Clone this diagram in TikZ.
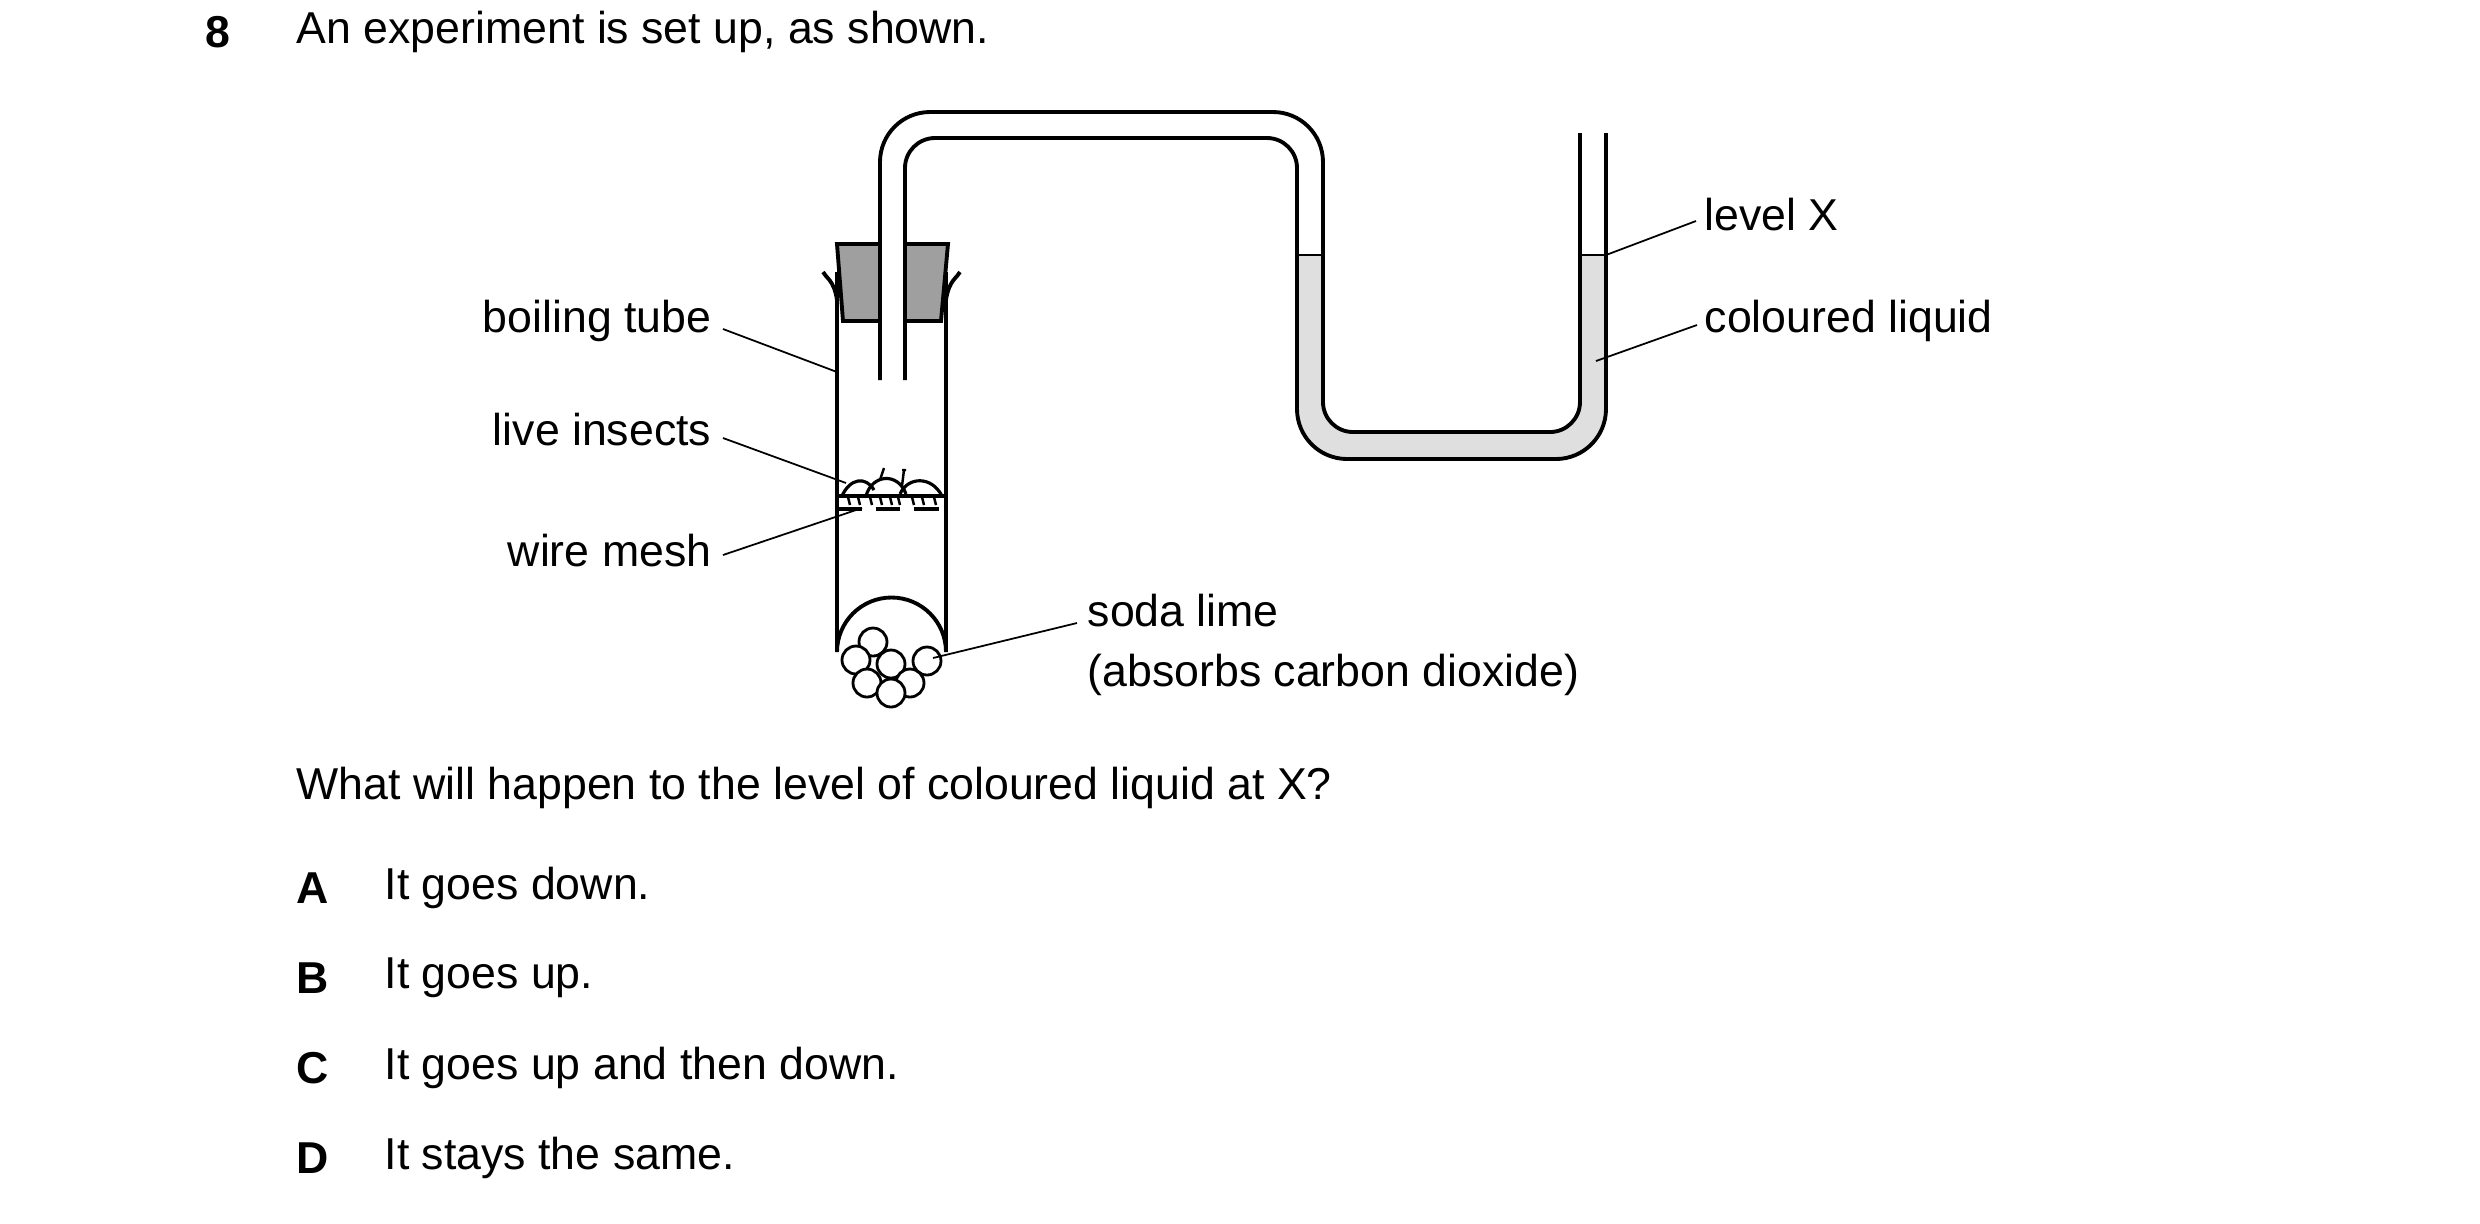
\documentclass[tikz,border=0pt]{standalone}
\usepackage{fontspec}
\setmainfont{Liberation Sans}
\usepackage{tikz}

\begin{document}
\begin{tikzpicture}[x=0.01cm,y=-0.01cm,
	lbl/.style={font=\fontsize{12.7}{15}\selectfont,inner sep=0pt},
	lead/.style={line width=0.5pt},
	wall/.style={line width=1.1pt}]
	\useasboundingbox (0,0) rectangle (2480,1223);

	% question text
	\node[lbl,font=\fontsize{12.7}{15}\selectfont\bfseries] (num) at (218,32) {8};
	\node[lbl,anchor=west] (intro) at (296,32) {An experiment is set up, as shown.};
	\node[lbl,anchor=west] (ask) at (296,788) {What will happen to the level of coloured liquid at X?};
	\node[lbl,anchor=west,font=\fontsize{12.7}{15}\selectfont\bfseries] (la) at (296,888) {A};
	\node[lbl,anchor=west] (ta) at (384,888) {It goes down.};
	\node[lbl,anchor=west,font=\fontsize{12.7}{15}\selectfont\bfseries] (lb) at (296,978) {B};
	\node[lbl,anchor=west] (tb) at (384,978) {It goes up.};
	\node[lbl,anchor=west,font=\fontsize{12.7}{15}\selectfont\bfseries] (lc) at (296,1068) {C};
	\node[lbl,anchor=west] (tc) at (384,1068) {It goes up and then down.};
	\node[lbl,anchor=west,font=\fontsize{12.7}{15}\selectfont\bfseries] (ld) at (296,1158) {D};
	\node[lbl,anchor=west] (td) at (384,1158) {It stays the same.};

	% coloured liquid
	\fill[gray!25] (1297,255) [rounded corners=0.5cm] -- (1297,459) -- (1606,459) [sharp corners] -- (1606,255)
		-- (1580,255) [rounded corners=0.3cm] -- (1580,432) -- (1323,432) [sharp corners] -- (1323,255) -- cycle;
	\draw[line width=0.8pt] (1297,255) -- (1323,255);
	\draw[line width=0.8pt] (1580,255) -- (1606,255);

	% stopper
	\fill[gray!75,draw=black,wall] (837,244) -- (948,244) -- (941,321) -- (843,321) -- cycle;
	\fill[white] (881,242) rectangle (904,323);

	% delivery tube and U-tube
	\draw[wall] (880,380) [rounded corners=0.5cm] -- (880,112) -- (1323,112) [rounded corners=0.3cm] -- (1323,432) -- (1580,432) [sharp corners] -- (1580,133);
	\draw[wall] (905,380) [rounded corners=0.3cm] -- (905,138) -- (1297,138) [rounded corners=0.5cm] -- (1297,459) -- (1606,459) [sharp corners] -- (1606,133);

	% boiling tube
	\draw[wall] (837,272) -- (837,652) arc[start angle=180,end angle=360,radius=54.5] -- (946,272);
	\draw[wall] (837,300) .. controls (834,280) and (826,278) .. (823,272);
	\draw[wall] (946,300) .. controls (949,280) and (957,278) .. (960,272);

	% insects and mesh
	\draw[line width=0.9pt] (837,496) -- (946,496);
	\draw[line width=0.9pt] (842,496) .. controls (850,478) and (866,476) .. (874,490);
	\draw[line width=0.9pt] (866,496) .. controls (872,474) and (898,472) .. (906,494);
	\draw[line width=0.9pt] (900,494) .. controls (908,476) and (932,476) .. (942,496);
	\draw[line width=0.7pt] (880,480) -- (884,468);
	\draw[line width=0.7pt] (902,486) -- (904,470) (902,470) -- (906,470);
	\foreach \px in {848,858,870,880,890,898,912,922,934}
		\draw[line width=0.7pt] (\px,497) -- (\px+2,505);
	\draw[line width=1pt,dash pattern=on 7pt off 4pt] (837,509) -- (946,509);

	% soda lime
	\foreach \cx/\cy in {873/642,856/660,891/664,927/661,867/683,910/683,891/693}
		\draw[line width=0.8pt,fill=white] (\cx,\cy) circle[radius=14];

	% labels
	\node[lbl,anchor=east] (boil) at (712,321) {boiling tube};
	\node[lbl,anchor=east] (live) at (712,430) {live insects};
	\node[lbl,anchor=east] (mesh) at (712,551) {wire mesh};
	\node[lbl,anchor=west,align=left] (soda) at (1087,645) {soda lime\\[2pt](absorbs carbon dioxide)};
	\node[lbl,anchor=west] (lvl) at (1704,215) {level X};
	\node[lbl,anchor=west] (liq) at (1704,321) {coloured liquid};

	\coordinate (pboil) at (837,372);
	\coordinate (plive) at (846,483);
	\coordinate (pmesh) at (862,508);
	\coordinate (psoda) at (933,658);
	\coordinate (plvl) at (1606,255);
	\coordinate (pliq) at (1596,361);

	\draw[lead] (723,329) -- (pboil);
	\draw[lead] (723,438) -- (plive);
	\draw[lead] (723,555) -- (pmesh);
	\draw[lead] (1077,623) -- (psoda);
	\draw[lead] (1696,221) -- (plvl);
	\draw[lead] (1697,325) -- (pliq);
\end{tikzpicture}
\end{document}
